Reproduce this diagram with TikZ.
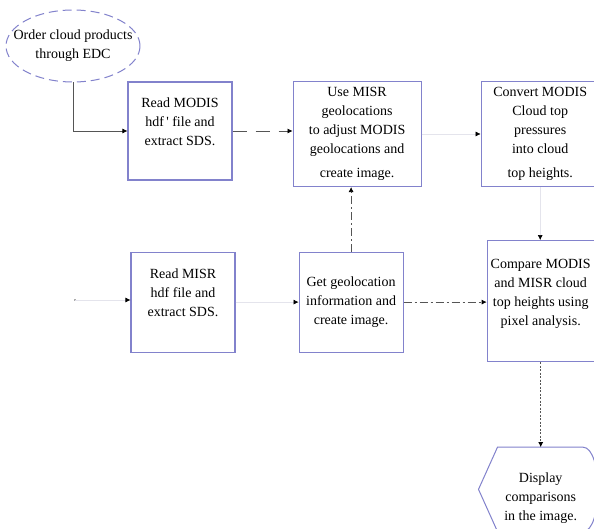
\documentclass[tikz,border=0pt]{standalone}
\usepackage{fontspec}
\setmainfont{Liberation Serif}
\usepackage{tikz}
\usetikzlibrary{arrows.meta,positioning,shapes.geometric}
\definecolor{BoxBlue}{HTML}{8282CC}
\definecolor{LinkGray}{HTML}{555555}
\definecolor{FaintGray}{HTML}{E4E4EC}
\newcommand{\padbelow}{\rule[-18pt]{0pt}{0pt}}
\newcommand{\padabove}{\rule{0pt}{28pt}}

\begin{document}
\begin{tikzpicture}[
  x=1pt, y=-1pt,
  font=\fontsize{14}{19}\selectfont,
  node distance=60pt,
  pbox/.style={draw=BoxBlue, line width=1.1pt, fill=white, align=center, inner sep=2pt},
  order/.style={ellipse, draw=BoxBlue, line width=1pt, dashed, dash pattern=on 9pt off 5pt, align=center, inner xsep=-16pt, inner ysep=0pt},
  tip/.style={-{Latex[length=5pt,width=5pt,color=black]}},
  link/.style={tip, draw=LinkGray, line width=0.7pt},
  faintlink/.style={tip, draw=FaintGray, line width=0.6pt},
  dashlink/.style={link, dash pattern=on 14pt off 9pt},
  dotlink/.style={link, dash pattern=on 8pt off 3pt on 2pt off 3pt},
  finelink/.style={link, dash pattern=on 2pt off 1.5pt}
]
\useasboundingbox (0,0) rectangle (594,529);
\clip (0,0) rectangle (594,529);
\fill[white] (0,0) rectangle (594,529);

\node[order, minimum width=134pt, minimum height=72pt] (ordercloud) at (73,46) {Order cloud products\\through EDC};
\node[pbox, minimum width=104pt, minimum height=98pt] (readmodis) at (180,131) {Read MODIS\\hdf\,\textquotesingle\ file and\\extract SDS.\padbelow};
\node[pbox, minimum width=128pt, minimum height=105pt, right=60pt of readmodis, yshift=-3pt] (adjust) {Use MISR\\geolocations\\to adjust MODIS\\geolocations and\\[5pt]create image.};
\node[pbox, minimum width=118pt, minimum height=105pt, right=59pt of adjust] (convert) {Convert MODIS\\Cloud top\\pressures\\into cloud\\[5pt]top heights.};
\node[pbox, minimum width=104pt, minimum height=100pt, below=71pt of readmodis, xshift=3pt] (readmisr) {Read MISR\\hdf file and\\extract SDS.\padbelow};
\node[pbox, minimum width=104pt, minimum height=100pt, right=63pt of readmisr] (getgeo) {Get geolocation\\information and\\create image.};
\node[pbox, minimum width=107pt, minimum height=121pt, right=83pt of getgeo, yshift=1pt] (compare) {Compare MODIS\\and MISR cloud\\top heights using\\pixel analysis.\padbelow};
\node[minimum width=124pt, minimum height=84pt, align=center, below=85pt of compare] (display) {\padabove Display\\comparisons\\in the image.};
\draw[draw=BoxBlue, line width=1pt] ([xshift=19pt]display.north west) -- (display.west) -- ([xshift=19pt]display.south west) -- ([xshift=-20pt]display.south east) .. controls (display.south east) and (display.north east) .. ([xshift=-20pt]display.north east) -- cycle;

\coordinate (misrin) at (75,300);

\draw[link] (ordercloud.south) |- (readmodis.west);
\draw[dashlink] (readmodis.east) -- (readmodis.east -| adjust.west);
\draw[faintlink] (adjust.east) -- (convert.west);
\fill[LinkGray] (misrin) circle (0.8pt);
\draw[faintlink] (misrin) -- (misrin -| readmisr.west);
\draw[faintlink] (readmisr.east) -- (readmisr.east -| getgeo.west);
\draw[dotlink] (getgeo.north) -- (getgeo.north |- adjust.south);
\draw[dotlink] (getgeo.east) -- (getgeo.east -| compare.west);
\draw[faintlink] (convert.south) -- (convert.south |- compare.north);
\draw[finelink] (compare.south) -- (compare.south |- display.north);
\end{tikzpicture}
\end{document}
